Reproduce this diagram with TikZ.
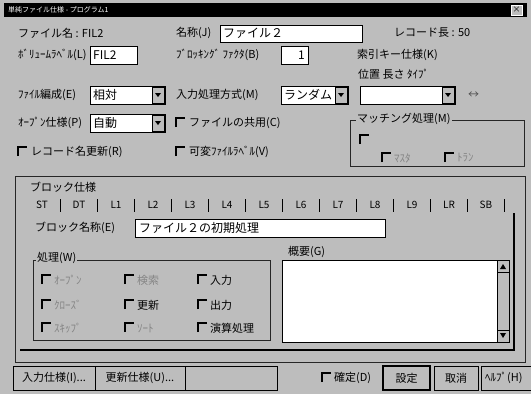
\documentclass[tikz,border=0pt]{standalone}
\usepackage{fontspec}
\setmainfont{Noto Sans CJK JP}
\definecolor{dlg}{gray}{0.74}
\definecolor{dim}{gray}{0.52}

% combo box: left x, right x, top y, node name, text
\newcommand\dropbox[5]{%
  \filldraw[field] (#1,#3) rectangle (#2,#3+18);
  \filldraw[fill=dlg,draw=black,line width=0.5pt] (#2-13,#3+1) rectangle (#2-1,#3+17);
  \fill (#2-10,#3+7) -- (#2-4,#3+7) -- (#2-7,#3+11) -- cycle;
  \node[val] (#4) at (#1+3,#3+9) {#5};}

\begin{document}
\begin{tikzpicture}[x=1pt,y=-1pt,
  lbl/.style={anchor=west,inner sep=0pt,font=\fontsize{11}{12}\selectfont},
  val/.style={anchor=west,inner sep=0pt,font=\fontsize{12}{13}\selectfont},
  off/.style={lbl,text=dim},
  tabt/.style={inner sep=0pt,font=\fontsize{10}{11}\selectfont},
  btnt/.style={inner sep=0pt,font=\fontsize{11}{12}\selectfont},
  field/.style={draw=black,fill=white,line width=0.8pt},
  frame/.style={draw=black!85,line width=0.6pt},
  chk/.style={draw=black,line width=1.3pt},
  btn/.style={draw=black,fill=dlg,line width=0.8pt}]
\useasboundingbox (0,0) rectangle (531,394);
\clip (0,0) rectangle (531,394);
\fill[dlg] (0,0) rectangle (531,394);
% title bar
\fill (4,3) rectangle (527,17);
\node[anchor=west,inner sep=0pt,text=white,font=\fontsize{7}{8}\selectfont] (title) at (8,10) {単純ファイル仕様 - プログラム1};
\filldraw[fill=dlg,draw=white] (511,5) rectangle (522,15);
\node[inner sep=0pt,font=\fontsize{8}{8}\selectfont] (close) at (516.5,10) {×};
% file rows
\node[lbl] (fname) at (18,33) {ファイル名 : FIL2};
\node[lbl] (namel) at (176,33) {名称(J)};
\filldraw[field] (220,25) rectangle (362,42);
\node[val] (namev) at (223,33.5) {ファイル２};
\node[lbl] (reclen) at (394,33) {レコード長 : 50};
\node[lbl] (voll) at (18,55) {ﾎﾞﾘｭｰﾑﾗﾍﾞﾙ(L)};
\filldraw[field] (90,46) rectangle (137,64);
\node[val] (volv) at (93,55) {FIL2};
\node[lbl] (blkl) at (176,55) {ﾌﾞﾛｯｷﾝｸﾞ ﾌｧｸﾀ(B)};
\filldraw[field] (281,46) rectangle (308,64);
\node[val,anchor=east] (blkv) at (305,55) {1};
\node[lbl] (keyl) at (357,55) {索引キー仕様(K)};
\node[lbl] (keyh) at (358,74) {位置\ 長さ\ ﾀｲﾌﾟ};
\node[lbl] (orgl) at (18,95) {ﾌｧｲﾙ編成(E)};
\dropbox{90}{165}{86}{orgv}{相対}
\node[lbl] (inl) at (176,95) {入力処理方式(M)};
\dropbox{281}{348}{86}{inv}{ランダム}
\dropbox{360}{455}{86}{keyv}{}
\node[lbl,text=black!70] (keyarr) at (468,95) {↔};
\node[lbl] (openl) at (18,123) {ｵｰﾌﾟﾝ仕様(P)};
\dropbox{90}{165}{114}{openv}{自動}
\draw[chk] (176,127) |- +(9,-9);
\node[lbl] (sharel) at (189,123) {ファイルの共用(C)};
\draw[chk] (18,156) |- +(9,-9);
\node[lbl] (recl) at (31,152) {レコード名更新(R)};
\draw[chk] (176,156) |- +(9,-9);
\node[lbl] (varl) at (189,152) {可変ﾌｧｲﾙﾗﾍﾞﾙ(V)};
% matching group
\draw[frame] (350,120) rectangle (524,166);
\node[lbl,fill=dlg,inner xsep=1pt] (matchl) at (356,119) {マッチング処理(M)};
\draw[chk] (360,144) |- +(9,-9);
\draw[chk] (382,162) |- +(9,-9);
\node[off] (mastl) at (394,158) {ﾏｽﾀ};
\draw[chk] (445,162) |- +(9,-9);
\node[off] (tranl) at (457,158) {ﾄﾗﾝ};
% block spec
\draw[frame] (15,176) rectangle (525,362);
\node[lbl] (blockl) at (30,187) {ブロック仕様};
\foreach \t [count=\i] in {ST,DT,L1,L2,L3,L4,L5,L6,L7,L8,L9,LR,SB}{
  \node[tabt] (tab\i) at (5+37*\i,205) {\t};
  \draw[line width=1pt] (23.5+37*\i,199) -- (23.5+37*\i,212);
}
\draw[line width=1.4pt] (514,213) -- (514,350) -- (20,350);
\node[lbl] (bnamel) at (35,228) {ブロック名称(E)};
\filldraw[field] (135,219) rectangle (385,237);
\node[val] (bnamev) at (139,228) {ファイル２の初期処理};
% processing
\draw[frame] (33,260) rectangle (270,340);
\node[lbl,fill=dlg,inner xsep=1pt] (procl) at (36,258) {処理(W)};
\foreach \x in {42,125,198}
  \foreach \y in {280,305,328}
    \draw[chk] (\x,\y+4) |- +(9,-9);
\node[off] (p11) at (54,280) {ｵｰﾌﾟﾝ};
\node[off] (p12) at (54,305) {ｸﾛｰｽﾞ};
\node[off] (p13) at (54,328) {ｽｷｯﾌﾟ};
\node[off] (p21) at (137,280) {検索};
\node[lbl] (p22) at (137,305) {更新};
\node[off] (p23) at (137,328) {ｿｰﾄ};
\node[lbl] (p31) at (210,280) {入力};
\node[lbl] (p32) at (210,305) {出力};
\node[lbl] (p33) at (210,328) {演算処理};
% summary
\node[lbl] (suml) at (288,252) {概要(G)};
\filldraw[field] (282,260) rectangle (497,342);
\filldraw[fill=dlg,draw=black] (497,260) rectangle (509,342);
\draw (497,272) -- (509,272) (497,330) -- (509,330);
\fill (500,269) -- (506,269) -- (503,264) -- cycle;
\fill (500,333) -- (506,333) -- (503,338) -- cycle;
% buttons
\filldraw[btn] (13,366) rectangle (95,390);
\node[btnt] (btnin) at (54,378) {入力仕様(I)...};
\filldraw[btn] (95,366) rectangle (185,390);
\node[btnt] (btnup) at (140,378) {更新仕様(U)...};
\filldraw[btn] (185,366) rectangle (277,390);
\draw[chk] (322,382) |- +(9,-9);
\node[lbl] (fixl) at (334,378) {確定(D)};
\filldraw[btn,line width=2pt] (383,366) rectangle (430,390);
\node[btnt] (btnset) at (406.5,378) {設定};
\filldraw[btn] (434,366) rectangle (478,390);
\node[btnt] (btncan) at (456,378) {取消};
\filldraw[btn] (481,366) rectangle (545,390);
\node[btnt,anchor=west] (btnhelp) at (485,378) {ﾍﾙﾌﾟ(H)};
\end{tikzpicture}
\end{document}
